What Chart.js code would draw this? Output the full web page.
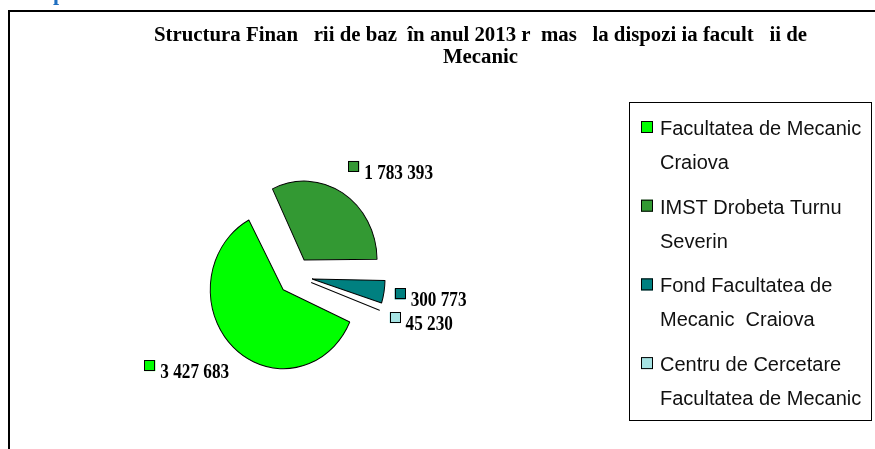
<!DOCTYPE html>
<html>
<head>
<meta charset="utf-8">
<style>
  html, body { margin: 0; padding: 0; background: #fff; }
  canvas { display: block; }
</style>
<script src="https://cdn.jsdelivr.net/npm/chart.js@4.4.1/dist/chart.umd.min.js"></script>
</head>
<body>
<canvas id="graficaFinantare" width="875" height="449"></canvas>
<script>
// datele graficului
const categorii = [
	['Facultatea de Mecanic', 'Craiova'],
	['IMST Drobeta Turnu', 'Severin'],
	['Fond Facultatea de', 'Mecanic  Craiova'],
	['Centru de Cercetare', 'Facultatea de Mecanic']
];
const valori = [3427683, 1783393, 300773, 45230];
const culori = ['#00ff00', '#339933', '#008080', '#a6e3e3'];
const titlu = [
	'Structura Finan   rii de baz  în anul 2013 r  mas   la dispozi ia facult   ii de',
	'Mecanic'
];

const raza = 76;
const explodare = 18;

function formatNumar(n) {
	return String(n).replace(/\B(?=(\d{3})+(?!\d))/g, ' ');
}

// arcul se muta cu offset/4, dar raza creste cu offset/4*fix -> o compensam
const explodat = {
	id: 'explodat',
	afterDatasetsUpdate(chart) {
		chart.getDatasetMeta(0).data.forEach(arc => {
			let fix = 1 - Math.sin(Math.min(Math.PI, arc.circumference));
			arc.outerRadius = raza - explodare * fix;
		});
	},
	beforeDatasetsDraw(chart) {
		// placinta din original e putin alungita pe verticala
		const c = chart.ctx;
		const a = chart.chartArea;
		const cx = (a.left + a.right) / 2, cy = (a.top + a.bottom) / 2;
		c.save();
		c.translate(cx, cy);
		c.scale(0.96, 1.04);
		c.translate(-cx, -cy);
	},
	afterDatasetsDraw(chart) {
		chart.ctx.restore();
	}
};

const fundal = {
	id: 'fundal',
	beforeDraw(chart) {
		const c = chart.ctx;
		c.save();
		c.fillStyle = '#fff';
		c.fillRect(0, 0, chart.width, chart.height);

		// bucata de text albastru de sus
		c.fillStyle = '#1f6fc0';
		c.font = 'bold 22px "Liberation Serif"';
		c.textBaseline = 'alphabetic';
		c.fillText('p', 53, 0);

		// rama
		c.strokeStyle = '#000';
		c.lineWidth = 2;
		c.beginPath();
		c.moveTo(9, chart.height + 2);
		c.lineTo(9, 11);
		c.lineTo(chart.width + 2, 11);
		c.stroke();

		// titlu
		c.fillStyle = '#000';
		c.font = 'bold 20px "Liberation Serif"';
		c.textAlign = 'center';
		let sx = 653 / c.measureText(titlu[0]).width;
		c.save();
		c.translate(480.5, 0);
		c.scale(sx, 1);
		c.fillText(titlu[0], 0, 41);
		c.fillText(titlu[1], 0, 63);
		c.restore();
		c.restore();
	},
	afterDraw(chart) {
		const c = chart.ctx;
		c.save();
		// legenda
		c.strokeStyle = '#000';
		c.lineWidth = 1;
		c.strokeRect(629.5, 102.5, 242, 318);
		c.font = '20px "Liberation Sans"';
		c.textAlign = 'left';
		c.textBaseline = 'alphabetic';
		for (let i = 0; i < categorii.length; i++) {
			let y = 135 + i * 78.7;
			c.fillStyle = culori[i];
			c.fillRect(641, y - 14, 12, 12);
			c.strokeRect(641.5, y - 13.5, 11, 11);
			c.fillStyle = '#111';
			for (let j = 0; j < categorii[i].length; j++) {
				c.fillText(categorii[i][j], 660, y + j * 34);
			}
		}
		c.restore();
	}
};

const etichete = {
	id: 'etichete',
	afterDatasetsDraw(chart) {
		const c = chart.ctx;
		const meta = chart.getDatasetMeta(0);
		const ingust = 0.86;
		c.save();
		c.font = 'bold 20px "Liberation Serif"';
		c.textBaseline = 'alphabetic';
		c.textAlign = 'left';
		meta.data.forEach((arc, i) => {
			const p = arc.getProps(['x', 'y', 'startAngle', 'endAngle'], true);
			const mid = (p.startAngle + p.endAngle) / 2;
			const dx = Math.cos(mid), dy = Math.sin(mid);
			const dist = raza + explodare + 7;
			const ax = p.x + dx * dist, ay = p.y + dy * dist;
			const text = formatNumar(valori[i]);
			const w = 11 + 5 + c.measureText(text).width * ingust;
			const left = dx >= 0 ? ax : ax - w + 3;
			const cy = ay + dy * 25 + 1;
			c.fillStyle = culori[i];
			c.fillRect(left, cy - 9, 11, 11);
			c.strokeStyle = '#000';
			c.lineWidth = 1;
			c.strokeRect(Math.round(left) + 0.5, Math.round(cy - 9) + 0.5, 10, 10);
			c.fillStyle = '#000';
			c.save();
			c.translate(left + 16, cy + 9);
			c.scale(ingust, 1);
			c.fillText(text, 0, 0);
			c.restore();
		});
		c.restore();
	}
};

new Chart(document.getElementById('graficaFinantare'), {
	type: 'pie',
	data: {
		labels: categorii,
		datasets: [{
			data: valori,
			backgroundColor: culori,
			borderColor: '#000',
			borderWidth: 1,
			offset: explodare * 4
		}]
	},
	options: {
		responsive: false,
		animation: false,
		events: [],
		rotation: 112,
		radius: raza,
		layout: { padding: { left: 0, right: 285, top: 103, bottom: 0 } },
		plugins: {
			legend: { display: false },
			title: { display: false },
			tooltip: { enabled: false }
		}
	},
	plugins: [explodat, fundal, etichete]
});
</script>
</body>
</html>
